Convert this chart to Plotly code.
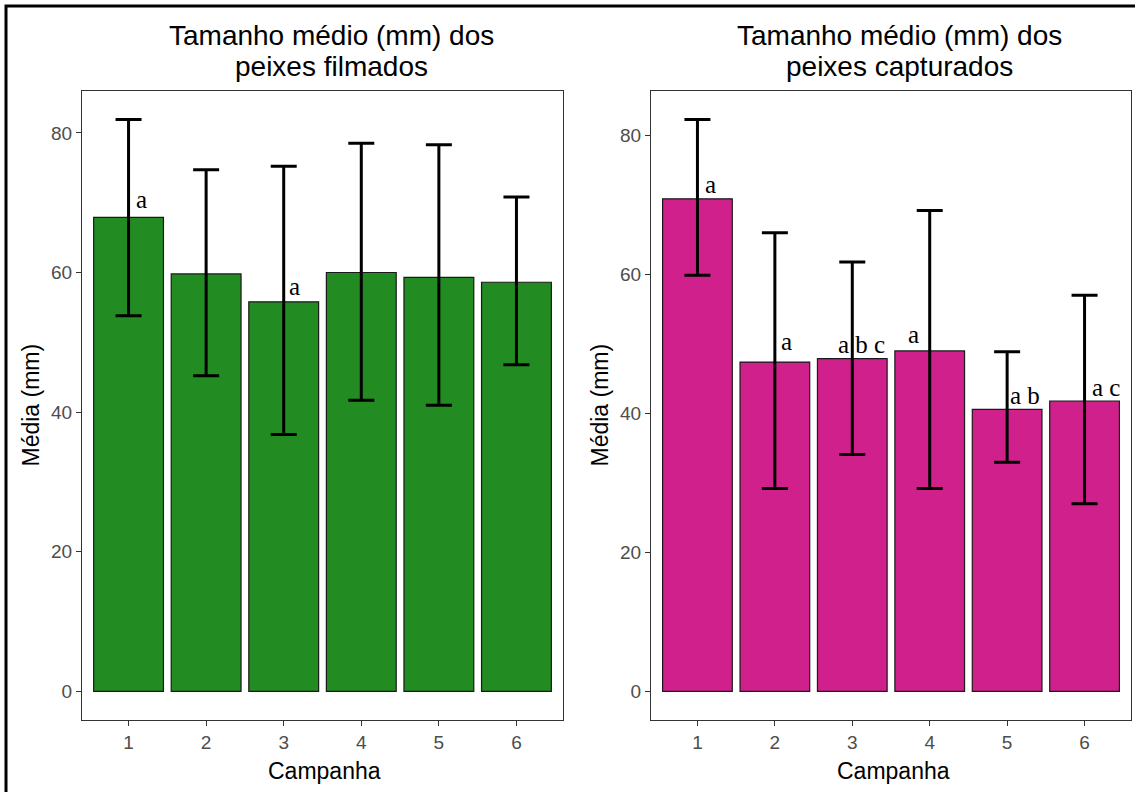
import plotly.graph_objects as go

# Mean fish length (mm) per sampling campaign, with whisker limits
campanha = [1, 2, 3, 4, 5, 6]

filmados_media = [67.9, 59.8, 55.8, 60.0, 59.3, 58.6]
filmados_sup = [81.9, 74.7, 75.2, 78.5, 78.3, 70.8]
filmados_inf = [53.8, 45.2, 36.8, 41.7, 41.0, 46.8]
filmados_letras = ["a", "", "a", "", "", ""]

capturados_media = [70.9, 47.4, 47.9, 49.0, 40.6, 41.8]
capturados_sup = [82.3, 66.0, 61.8, 69.2, 48.9, 57.0]
capturados_inf = [59.9, 29.2, 34.1, 29.2, 33.0, 27.0]
capturados_letras = ["a", "a", "a b c", "a", "a b", "a c"]

tick_vals = [0, 20, 40, 60, 80]

# pixel nudges for the significance letters
filmados_nudge = [(13, 18), (0, 0), (11, 15), (0, 0), (0, 0), (0, 0)]
capturados_nudge = [(13, 14), (12, 21), (9, 14), (-16, 16), (18, 14), (21, 13)]

W, H = 1135, 792
SANS = "Liberation Sans, Arial, sans-serif"
SERIF = "Liberation Serif, Times New Roman, serif"


def px_x(p):
    return p / W


def px_y(p):
    return 1 - p / H


panels = [
    dict(media=filmados_media, sup=filmados_sup, inf=filmados_inf,
         letras=filmados_letras, nudge=filmados_nudge, color="#228B22",
         x0=82, x1=563, title=["Tamanho médio (mm) dos", "peixes filmados"]),
    dict(media=capturados_media, sup=capturados_sup, inf=capturados_inf,
         letras=capturados_letras, nudge=capturados_nudge, color="#D0208C",
         x0=651, x1=1131, title=["Tamanho médio (mm) dos", "peixes capturados"]),
]

top_px, bot_px = 91, 720

fig = go.Figure()
annotations = []

for i, p in enumerate(panels):
    n = "" if i == 0 else str(i + 1)
    xa, ya = "x" + n, "y" + n
    plus = [s - m for s, m in zip(p["sup"], p["media"])]
    minus = [m - lo for m, lo in zip(p["media"], p["inf"])]
    fig.add_trace(go.Bar(
        x=campanha, y=p["media"], width=0.9,
        marker=dict(color=p["color"], line=dict(color="#1a1a1a", width=1.2)),
        error_y=dict(type="data", symmetric=False, array=plus, arrayminus=minus,
                     color="black", thickness=3, width=13),
        xaxis=xa, yaxis=ya, showlegend=False,
    ))
    hi = max(p["sup"])
    pad = 0.05 * hi
    lay_x = "xaxis" + n
    lay_y = "yaxis" + n
    axis_common = dict(showline=True, linecolor="#333333", linewidth=1, mirror=True,
                       ticks="outside", ticklen=5, tickcolor="#333333", tickwidth=1,
                       showgrid=False, zeroline=False,
                       tickfont=dict(family=SANS, size=19, color="#4D4D4D"))
    fig.update_layout(**{
        lay_x: dict(domain=[px_x(p["x0"]), px_x(p["x1"])], range=[0.4, 6.6],
                    tickvals=campanha, anchor=ya, **axis_common),
        lay_y: dict(domain=[px_y(bot_px), px_y(top_px)], range=[-pad, hi + pad],
                    tickvals=tick_vals, anchor=xa, **axis_common),
    })
    cx = (p["x0"] + p["x1"]) / 2
    # panel titles
    for line, yc in zip(p["title"], [35, 66]):
        annotations.append(dict(text=line, x=px_x(cx + 9), y=px_y(yc), xref="paper", yref="paper",
                                xanchor="center", yanchor="middle", showarrow=False,
                                font=dict(family=SANS, size=28, color="black")))
    # axis titles
    annotations.append(dict(text="Campanha", x=px_x(cx + 2), y=px_y(771), xref="paper", yref="paper",
                            xanchor="center", yanchor="middle", showarrow=False,
                            font=dict(family=SANS, size=23, color="black")))
    annotations.append(dict(text="Média (mm)", x=px_x(p["x0"] - 52), y=px_y((top_px + bot_px) / 2),
                            xref="paper", yref="paper", textangle=-90,
                            xanchor="center", yanchor="middle", showarrow=False,
                            font=dict(family=SANS, size=23, color="black")))
    # significance letters
    for c, m, lab, (dx, dy) in zip(campanha, p["media"], p["letras"], p["nudge"]):
        if not lab:
            continue
        annotations.append(dict(text=lab, x=c, y=m, xref=xa, yref=ya,
                                xanchor="center", yanchor="middle", xshift=dx, yshift=dy,
                                showarrow=False,
                                font=dict(family=SERIF, size=25, color="black")))

fig.update_layout(
    width=W, height=H, margin=dict(l=0, r=0, t=0, b=0),
    paper_bgcolor="white", plot_bgcolor="white",
    annotations=annotations,
    shapes=[dict(type="rect", xref="paper", yref="paper",
                 x0=px_x(6), x1=1.02, y0=-0.02, y1=px_y(6),
                 line=dict(color="black", width=3))],
)

fig.write_html("out.html")
